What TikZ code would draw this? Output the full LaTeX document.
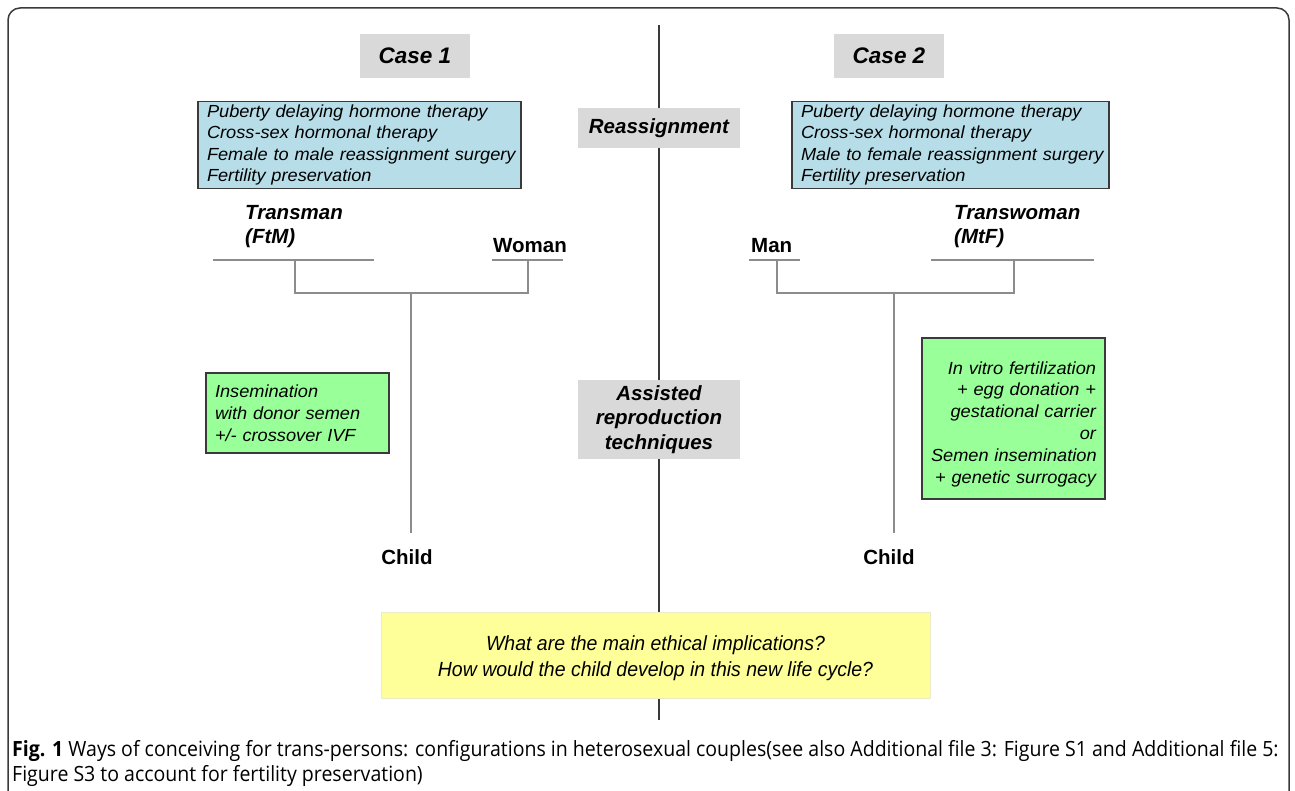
\documentclass[tikz,border=0pt]{standalone}
\usepackage{fontspec}
\setmainfont{Liberation Sans}
\newfontfamily\boxit{Liberation Sans}[FakeStretch=1.04, WordSpace=0.55]
\newfontfamily\narrowit{Liberation Sans}[FakeStretch=0.95]
\newfontfamily\capfont{Open Sans}[FakeStretch=0.93]
\definecolor{boxgray}{HTML}{D9D9D9}
\definecolor{tealbox}{HTML}{B7DEE8}
\definecolor{greenbox}{HTML}{99FF99}
\definecolor{yellowbox}{HTML}{FFFF99}
\definecolor{linegray}{HTML}{8C8C8C}
\definecolor{framegray}{HTML}{3A3A3A}
\tikzset{
  graybox/.style={fill=boxgray, inner sep=0pt, align=center,
    font=\fontsize{20.5}{24.5}\selectfont\bfseries\itshape},
  casebox/.style={graybox, minimum width=110pt, minimum height=44pt,
    font=\fontsize{22.5}{27}\selectfont\bfseries\itshape},
  listbox/.style={draw=framegray, line width=1.2pt, fill=tealbox, align=left,
    inner xsep=9pt, inner ysep=0pt, minimum height=87pt,
    font=\boxit\fontsize{17.5}{21.5}\selectfont\itshape},
  greenL/.style={draw=framegray, line width=1.2pt, fill=greenbox, align=left,
    inner xsep=9pt, inner ysep=0pt, font=\boxit\fontsize{17.5}{22}\selectfont\itshape},
  greenR/.style={draw=framegray, line width=1.2pt, fill=greenbox, align=right,
    inner xsep=9pt, inner ysep=0pt, font=\boxit\fontsize{17.5}{21.8}\selectfont\itshape},
  person/.style={inner sep=0pt, align=left, font=\fontsize{20.5}{24}\selectfont\bfseries},
  coupleline/.style={draw=linegray, line width=2pt},
  kinline/.style={draw=linegray, line width=1.3pt},
  axis/.style={draw=framegray, line width=1.1pt},
}
\begin{document}
\begin{tikzpicture}[x=1pt,y=-1pt]
\useasboundingbox (0,0) rectangle (1295,791);
\fill[white] (0,0) rectangle (1295,791);
% outer frame
\draw[framegray, line width=1.5pt, rounded corners=12pt] (8,8) rectangle (1289,840);
% central axis
\coordinate (axtop) at (659,25);
\coordinate (axbot) at (659,720);
\draw[axis] (axtop) -- (axbot);

% case headers
\node[casebox] (case1) at (415,56) {Case 1};
\node[casebox] (case2) at (889,56) {Case 2};
\node[graybox, minimum width=162pt, minimum height=40pt] (reass) at (659,128) {Reassignment};
\node[graybox, minimum width=162pt, minimum height=79pt] (art) at (659,419.5) {Assisted\\reproduction\\techniques};

% therapy boxes
\node[listbox, text width=305pt] (ther1) at (359.5,145) {\mbox{Puberty delaying hormone therapy}\\\mbox{Cross-sex hormonal therapy}\\\mbox{Female to male reassignment surgery}\\\mbox{Fertility preservation}};
\node[listbox, text width=299pt] (ther2) at (950.5,145) {\mbox{Puberty delaying hormone therapy}\\\mbox{Cross-sex hormonal therapy}\\\mbox{Male to female reassignment surgery}\\\mbox{Fertility preservation}};

% persons case 1
\node[person, font=\fontsize{20.5}{24}\selectfont\bfseries\itshape, anchor=west] (transman) at (245,227) {Transman\\(FtM)};
\node[person, anchor=west] (woman) at (493,246) {Woman};
\coordinate (tmA) at (213,260); \coordinate (tmB) at (374,260);
\coordinate (wA) at (492,260); \coordinate (wB) at (563,260);
\draw[coupleline] (tmA) -- (tmB);
\draw[coupleline] (wA) -- (wB);
\coordinate (tmD) at (295,260); \coordinate (wD) at (528,260);
\coordinate (c1top) at (411,293);
\node[person, anchor=center] (child1) at (407,557) {Child};
\coordinate (c1bot) at (411,533);
\draw[kinline] (tmD) -- (295,293) -- (528,293) -- (wD);
\draw[kinline] (c1top) -- (c1bot);

% persons case 2
\node[person, anchor=west] (man) at (751,246) {Man};
\node[person, font=\fontsize{20.5}{24}\selectfont\bfseries\itshape, anchor=west] (transwoman) at (954,227) {Transwoman\\(MtF)};
\coordinate (mA) at (749,260); \coordinate (mB) at (800,260);
\coordinate (twA) at (931,260); \coordinate (twB) at (1094,260);
\draw[coupleline] (mA) -- (mB);
\draw[coupleline] (twA) -- (twB);
\coordinate (mD) at (777,260); \coordinate (twD) at (1014,260);
\coordinate (c2top) at (894,293);
\coordinate (c2bot) at (894,533);
\node[person, anchor=center] (child2) at (889,557) {Child};
\draw[kinline] (mD) -- (777,293) -- (1014,293) -- (twD);
\draw[kinline] (c2top) -- (c2bot);

% ART boxes
\node[greenL, text width=165pt, minimum height=80pt] (ins) at (297.5,413) {\mbox{Insemination}\\\mbox{with donor semen}\\\mbox{+/- crossover IVF}};
\node[greenR, text width=165pt, minimum height=161pt] (ivf) at (1013.5,418.5) {\rule{0pt}{24pt}\mbox{In vitro fertilization}\\\mbox{+ egg donation +}\\\mbox{gestational carrier}\\or\\\mbox{Semen insemination}\\\mbox{+ genetic surrogacy}};

% question box
\node[fill=yellowbox, draw=yellowbox!80!black!40, line width=0.6pt, minimum width=549pt, minimum height=86pt, align=center, inner sep=0pt,
  font=\narrowit\fontsize{20.5}{26}\selectfont\itshape] (quest) at (655.5,655) {\rule{0pt}{21pt}What are the main ethical implications?\\How would the child develop in this new life cycle?};

% caption
\node[anchor=west, align=left, inner sep=0pt, font=\capfont\fontsize{21}{25}\selectfont] (caption) at (12,763)
{\textbf{Fig. 1} Ways of conceiving for trans-persons: configurations in heterosexual couples(see also Additional file 3: Figure S1 and Additional file 5:\\Figure S3 to account for fertility preservation)};
\end{tikzpicture}
\end{document}
